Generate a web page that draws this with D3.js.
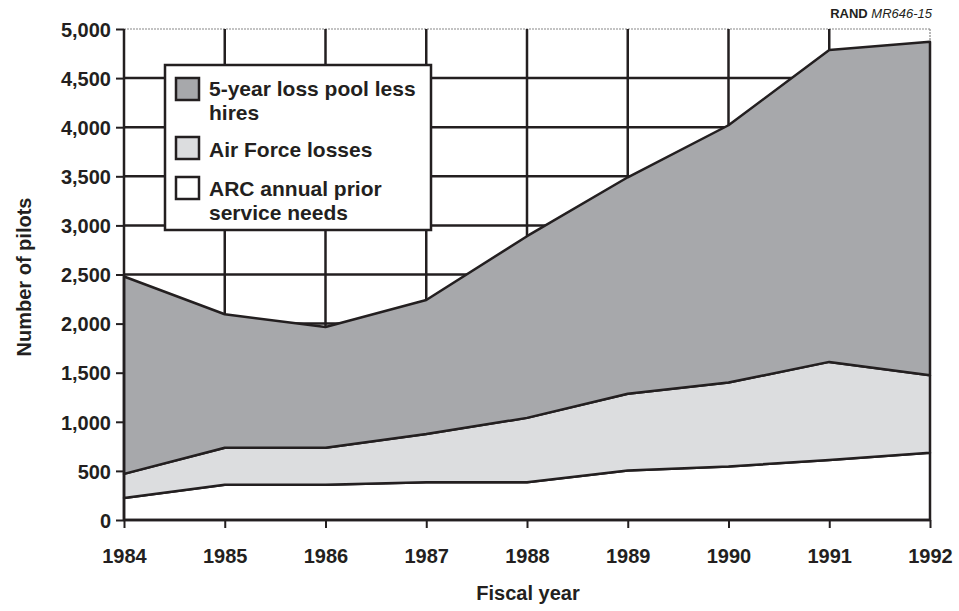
<!DOCTYPE html>
<meta charset="utf-8">
<style>
body { margin: 0; background: #fff; font-family: "Liberation Sans", Arial, sans-serif; }
</style>
<body>
<script src="https://d3js.org/d3.v7.min.js"></script>
<script>

var years = [1984, 1985, 1986, 1987, 1988, 1989, 1990, 1991, 1992];
var arcNeeds = [225, 360, 360, 385, 385, 505, 545, 610, 685];
var afLosses = [245, 375, 375, 490, 655, 780, 855, 1000, 790];
var poolLessHires = [2010, 1360, 1230, 1365, 1850, 2205, 2620, 3175, 3395];
var yTicks = [0, 500, 1000, 1500, 2000, 2500, 3000, 3500, 4000, 4500, 5000];

var seriesNames = ["ARC annual prior service needs", "Air Force losses", "5-year loss pool less hires"];
var fills = ["#ffffff", "#dcdddf", "#a7a8ab"];
var ink = "#231f20";
var font = "'Liberation Sans', Arial, sans-serif";

var width = 959, height = 611;
var margin = {top: 29, right: 29, bottom: 91, left: 124};
var innerWidth = width - margin.left - margin.right;
var innerHeight = height - margin.top - margin.bottom;

var rows = years.map((y, i) => ({year: y, arc: arcNeeds[i], af: afLosses[i], pool: poolLessHires[i]}));
var stacked = d3.stack().keys(["arc", "af", "pool"])(rows);

var x = d3.scaleLinear().domain([1984, 1992]).range([0, innerWidth]);
var y = d3.scaleLinear().domain([0, 5000]).range([innerHeight, 0]);

var svg = d3.select("body").append("svg")
    .attr("width", width)
    .attr("height", height)
    .style("font-family", font);

var g = svg.append("g")
    .attr("transform", `translate(${margin.left},${margin.top})`);

// grid
g.selectAll("line.hgrid")
  .data(yTicks.filter(d => d > 0))
  .enter().append("line")
    .attr("x1", 0).attr("x2", innerWidth)
    .attr("y1", d => y(d)).attr("y2", d => y(d))
    .attr("stroke", d => d === 5000 ? "#888" : ink)
    .attr("stroke-width", d => d === 5000 ? 1.2 : 2.5)
    .attr("stroke-dasharray", d => d === 5000 ? "2,1" : null);

g.selectAll("line.vgrid")
  .data(years.slice(1))
  .enter().append("line")
    .attr("x1", d => x(d)).attr("x2", d => x(d))
    .attr("y1", 0).attr("y2", innerHeight)
    .attr("stroke", d => d === 1992 ? "#888" : ink)
    .attr("stroke-width", d => d === 1992 ? 1.2 : 2.5)
    .attr("stroke-dasharray", d => d === 1992 ? "2,1" : null);

var area = d3.area()
    .x(d => x(d.data.year))
    .y0(d => y(d[0]))
    .y1(d => y(d[1]));

g.selectAll("path.layer")
  .data(stacked)
  .enter().append("path")
    .attr("d", area)
    .attr("fill", (d, i) => fills[i])
    .attr("stroke", ink)
    .attr("stroke-width", 2.5)
    .attr("stroke-linejoin", "round");

// axes
var yAxis = d3.axisLeft(y).tickValues(yTicks).tickFormat(d3.format(",")).tickSize(8).tickPadding(5);
var xAxis = d3.axisBottom(x).tickValues(years).tickFormat(d3.format("d")).tickSize(8).tickPadding(0);

var ya = g.append("g").call(yAxis)
    .attr("font-size", 20).attr("font-family", font).attr("font-weight", "bold");
ya.select(".domain").remove();
ya.selectAll(".tick line").attr("stroke", ink).attr("stroke-width", 2);
ya.selectAll(".tick text").attr("fill", ink).attr("dy", "0.36em");
g.append("line").attr("x1", 0).attr("x2", 0).attr("y1", 0).attr("y2", innerHeight)
    .attr("stroke", ink).attr("stroke-width", 2.5);

var xa = g.append("g").attr("transform", `translate(0,${innerHeight})`).call(xAxis)
    .attr("font-size", 20).attr("font-family", font).attr("font-weight", "bold");
xa.select(".domain").remove();
xa.selectAll(".tick line").attr("stroke", ink).attr("stroke-width", 2);
xa.selectAll(".tick text").attr("fill", ink).attr("y", 43).attr("dy", null);
g.append("line").attr("x1", 0).attr("x2", innerWidth).attr("y1", innerHeight).attr("y2", innerHeight)
    .attr("stroke", ink).attr("stroke-width", 2.5);

// axis titles
svg.append("text")
    .attr("x", 528)
    .attr("y", 600)
    .attr("text-anchor", "middle")
    .attr("font-weight", "bold")
    .attr("font-size", 20)
    .attr("fill", ink)
    .text("Fiscal year");

svg.append("text")
    .attr("transform", "translate(31,277) rotate(-90)")
    .attr("text-anchor", "middle")
    .attr("font-weight", "bold")
    .attr("font-size", 20)
    .attr("fill", ink)
    .text("Number of pilots");

// source tag
var tag = svg.append("text")
    .attr("x", 932).attr("y", 18)
    .attr("text-anchor", "end")
    .attr("font-size", 13)
    .attr("fill", ink);
tag.append("tspan").attr("font-weight", "bold").text("RAND ");
tag.append("tspan").attr("font-style", "italic").text("MR646-15");

// legend
var legend = svg.append("g");
legend.append("rect")
    .attr("x", 165).attr("y", 65).attr("width", 266).attr("height", 165)
    .attr("fill", "#fff").attr("stroke", ink).attr("stroke-width", 2.5);

var legendItems = [
  {fill: fills[2], sy: 78, lines: ["5-year loss pool less", "hires"], ty: 96},
  {fill: fills[1], sy: 137, lines: ["Air Force losses"], ty: 157},
  {fill: fills[0], sy: 177, lines: ["ARC annual prior", "service needs"], ty: 196}
];

legendItems.forEach(function(d) {
  legend.append("rect")
      .attr("x", 176).attr("y", d.sy).attr("width", 23).attr("height", 22)
      .attr("fill", d.fill).attr("stroke", ink).attr("stroke-width", 2.5);
  var t = legend.append("text")
      .attr("x", 209).attr("y", d.ty)
      .attr("font-weight", "bold").attr("font-size", 21).attr("fill", ink);
  d.lines.forEach(function(l, i) {
    t.append("tspan").attr("x", 209).attr("dy", i === 0 ? 0 : 24).text(l);
  });
});

</script>
